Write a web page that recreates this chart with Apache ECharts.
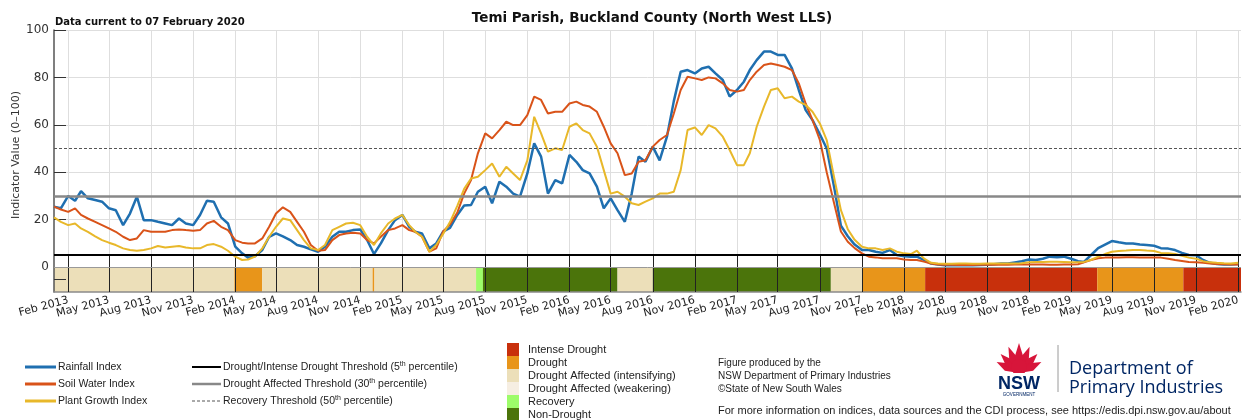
<!DOCTYPE html>
<html>
<head>
<meta charset="utf-8">
<title>Temi Parish, Buckland County (North West LLS)</title>
<script src="https://cdn.jsdelivr.net/npm/echarts@6/dist/echarts.min.js"></script>
<style>
  html, body { margin: 0; padding: 0; background: #fff; }
  #chart { width: 1247px; height: 420px; }
</style>
</head>
<body>
<div id="chart"></div>
<script>
// sample dates: 1st and 16th of each month, Jan 2013 - Feb 2020
const sampleDates = [];
for (let y = 2013; y <= 2020; y++) {
  for (let m = 0; m < 12; m++) {
    if (y === 2020 && m > 1) break;
    sampleDates.push(new Date(y, m, 1).getTime());
    if (!(y === 2020 && m === 1)) sampleDates.push(new Date(y, m, 16).getTime());
  }
}

const rainfallIndex = [
  25.5, 24.8, 30, 28, 32, 29, 28.3, 27.6, 24.8, 24,
  17.7, 22.6, 29.7, 19.8, 19.8, 19.1, 18.4, 17.7, 20.5, 18.4,
  17.7, 22, 28, 27.6, 21, 18.4, 8.6, 5.8, 4, 4.6,
  7.2, 12.8, 14.2, 13, 11.4, 9.3, 8.6, 7.5, 6.5, 8.6,
  12.8, 14.9, 14.9, 15.6, 15.9, 11.4, 5.5, 10, 15.6, 19.8,
  22, 17, 14.9, 14.2, 7.9, 10, 15, 16.5, 22, 26,
  26.2, 31.8, 33.9, 26.9, 36, 33.9, 31, 29.7, 39.5, 52.2,
  46.6, 31, 36.7, 35.3, 47.3, 44.4, 40.9, 39.5, 33.9, 24.8,
  29, 24, 19.1, 31, 46.6, 44.4, 50.8, 45, 55, 70,
  82.4, 83.1, 81.7, 83.8, 84.5, 81.7, 78.9, 71.9, 74.7, 78.2,
  83.1, 87.3, 90.9, 90.9, 89.5, 89.5, 83.8, 74.7, 66.2, 62,
  56, 50, 34, 17.5, 13, 9.5,
  7.2, 7.2, 6.5, 6, 7.2, 5.1, 4.6, 4.4, 4.4, 3,
  1.5, 1.1, 0.8, 0.8, 0.8, 0.8, 0.8, 0.9, 1, 1.2,
  1.5, 1.5, 2, 2.5, 3.2, 3, 3.5, 4.4, 4.2, 4.4,
  3.5, 2.5, 2.2, 5, 8, 9.5, 11, 10.5, 10, 10,
  9.5, 9.3, 9, 8, 7.8, 7.2, 6, 5.1, 5, 3,
  1.8, 1.3, 1.1, 1.1, 1.3
];
const soilWaterIndex = [
  25.5, 24.3, 23.3, 24.8, 22, 20.5, 19.1, 17.7, 16.3, 14.9,
  12.8, 11.4, 12.1, 15.6, 14.9, 14.9, 14.9, 15.6, 15.9, 15.6,
  15.3, 15.6, 18.4, 19.5, 17, 15.6, 11.4, 10.3, 10, 10,
  12.1, 17, 22.6, 25.2, 23.3, 19.1, 14.9, 9.3, 6.9, 7.2,
  11.4, 13.5, 14.2, 14.5, 14.2, 11.4, 10, 12.8, 15.6, 16.3,
  17.7, 15.6, 14.9, 12.8, 6.5, 7.9, 15, 18, 23, 31,
  36.7, 48, 56.4, 54.3, 57.8, 61.3, 59.9, 59.9, 64.1, 71.9,
  70.5, 64.8, 65.5, 65.5, 69, 69.8, 68.4, 67.7, 65.5, 59.2,
  52.2, 48, 38.8, 39.5, 44.4, 45.1, 50.8, 53.6, 55.7, 64.8,
  74.7, 80.3, 79.6, 78.9, 80, 79.6, 77.5, 74.7, 74, 74.7,
  78.9, 82.4, 85.2, 85.9, 85.2, 84.5, 83.1, 77.5, 69, 62,
  53.6, 40, 27, 15, 10.7, 8,
  5.8, 4.4, 4.1, 3.7, 3.7, 3.7, 3.2, 3, 3, 2.3,
  1.5, 1.1, 1, 1, 0.9, 0.9, 0.9, 1, 1, 1,
  1, 1, 1.1, 1.1, 1.1, 1.1, 1.1, 1, 1, 1.1,
  1.1, 1.2, 2, 3, 3.7, 4, 4.1, 4.1, 4.2, 4.2,
  4.1, 4, 4, 4, 3.5, 3, 2.6, 2.2, 2, 1.8,
  1.5, 1.3, 1.2, 1.1, 1.1
];
const plantGrowthIndex = [
  21, 19.1, 17.7, 18.4, 16.3, 14.9, 13, 11.4, 10.3, 9.3,
  7.9, 7.2, 6.9, 7.2, 7.9, 8.9, 8.3, 8.6, 8.9, 8.3,
  7.9, 7.9, 9.3, 9.7, 8.6, 6.9, 4.4, 3, 3.2, 4.4,
  7.9, 12.8, 17, 20.5, 19.8, 15.6, 11.4, 7.9, 7.2, 9.3,
  15.6, 17, 18.4, 18.7, 17.7, 12.8, 9.3, 14.2, 18.4, 20.5,
  22, 17.7, 14.9, 12.8, 6.5, 9.3, 14, 19, 25.8, 33,
  37.4, 38.1, 40.9, 43.7, 38.1, 42.3, 39.5, 36.7, 45, 63.4,
  56.4, 48.7, 50.1, 49.4, 59.2, 60.6, 57.8, 56.4, 50.8, 40.9,
  31, 31.8, 29.7, 26.9, 26.2, 27.6, 29, 31, 31, 31.8,
  40.9, 57.8, 58.9, 55.7, 59.9, 58.5, 55, 49.4, 43, 43,
  48, 59.2, 67.7, 74.7, 75.4, 71.2, 71.9, 69.8, 68.4, 65.5,
  60.6, 53.6, 38, 24, 16, 11.5,
  8.6, 7.9, 7.9, 7.2, 7.9, 6.5, 5.8, 5.5, 6.9, 3.7,
  1.8, 1.5, 1.4, 1.4, 1.5, 1.5, 1.4, 1.4, 1.5, 1.5,
  1.5, 1.5, 1.5, 1.6, 2, 2.2, 2.2, 2.3, 2.3, 2.2,
  2, 2, 2.2, 3, 4.4, 5.5, 6.5, 6.8, 7, 7.2,
  7.2, 7, 6.8, 6, 5.8, 5.5, 4.8, 4, 3.5, 2.5,
  2, 1.8, 1.6, 1.5, 1.8
];

// CDI phase band: start dates and state index (into stateNames)
const bandStarts = ['2013-01-01', '2014-01-30', '2014-04-01', '2014-11-28', '2014-12-02',
  '2015-07-12', '2015-07-27', '2016-05-16', '2016-08-01', '2017-08-25',
  '2017-11-01', '2018-03-19', '2019-03-30', '2019-10-04'];
const bandStates = [2, 1, 2, 1, 2, 4, 5, 2, 5, 2, 1, 0, 1, 0];
const bandEnd = '2020-02-07';
const stateNames = ['Intense Drought', 'Drought', 'Drought Affected (intensifying)',
  'Drought Affected (weakering)', 'Recovery', 'Non-Drought'];
const stateColors = ['#c8300c', '#e8951a', '#ecdfb9', '#f6eee2', '#9dfc6a', '#4b740b'];

const seriesNames = ['Rainfall Index', 'Soil Water Index', 'Plant Growth Index'];
const seriesColors = ['#1f6fb0', '#d95319', '#e8b82a'];
const thresholdValues = [5, 30, 50];
const thresholdNames = [
  'Drought/Intense Drought Threshold (5{sup|th} percentile)',
  'Drought Affected Threshold (30{sup|th} percentile)',
  'Recovery Threshold (50{sup|th} percentile)'
];
const yTickValues = [0, 20, 40, 60, 80, 100];
const monthNames = ['Jan', 'Feb', 'Mar', 'Apr', 'May', 'Jun', 'Jul', 'Aug', 'Sep', 'Oct', 'Nov', 'Dec'];

const toTime = (s) => {
  const p = s.split('-').map(Number);
  return new Date(p[0], p[1] - 1, p[2]).getTime();
};

// quarterly ticks Feb / May / Aug / Nov
const tickDates = [];
for (let y = 2013; y <= 2020; y++) {
  for (const m of [1, 4, 7, 10]) {
    if (y === 2020 && m > 1) break;
    tickDates.push(new Date(y, m, 1).getTime());
  }
}
// labels are split over two axes so the rotated labels never count as overlapping
const labelsA = tickDates.filter((d, i) => i % 2 === 0);
const labelsB = tickDates.filter((d, i) => i % 2 === 1);

const xMin = toTime('2013-01-01');
const xMax = toTime(bandEnd);
const yMin = -10.5;
const font = 'DejaVu Sans';
const smallFont = 'Liberation Sans';

const chart = echarts.init(document.getElementById('chart'));

const bandData = bandStarts.map((s, i) => [
  toTime(s), toTime(bandStarts[i + 1] || bandEnd), bandStates[i]
]);

const thresholdStyles = [
  { color: '#000', width: 2, type: 'solid' },
  { color: '#888', width: 2.5, type: 'solid' },
  { color: '#555', width: 1, type: [3, 2] }
];

// legend drawn as graphics at the bottom
const graphics = [];
// index legend
seriesNames.forEach((name, i) => {
  const y = 367 + i * 17;
  graphics.push({ type: 'line', shape: { x1: 25, y1: y, x2: 56, y2: y },
    style: { stroke: seriesColors[i], lineWidth: 3 } });
  graphics.push({ type: 'text', x: 58, y: y,
    style: { text: name, fill: '#222', font: '10.5px ' + smallFont, textVerticalAlign: 'middle' } });
});
// threshold legend
thresholdNames.forEach((name, i) => {
  const y = 367 + i * 17;
  const st = thresholdStyles[i];
  graphics.push({ type: 'line', shape: { x1: 192, y1: y, x2: 221, y2: y },
    style: { stroke: st.color, lineWidth: st.width, lineDash: Array.isArray(st.type) ? st.type : null } });
  graphics.push({ type: 'text', x: 223, y: y,
    style: { text: name, fill: '#222', font: '10.5px ' + smallFont, textVerticalAlign: 'middle',
      rich: { sup: { fontSize: 7, fontFamily: smallFont, padding: [0, 0, 6, 0] } } } });
});
// phase legend
stateNames.forEach((name, i) => {
  const top = 343 + i * 13;
  graphics.push({ type: 'rect', shape: { x: 507, y: top, width: 12, height: 13 },
    style: { fill: stateColors[i] } });
  graphics.push({ type: 'text', x: 528, y: top + 6.5,
    style: { text: name, fill: '#222', font: '11px ' + smallFont, textVerticalAlign: 'middle' } });
});
// credits
['Figure produced by the', 'NSW Department of Primary Industries', '\u00A9State of New South Wales']
  .forEach((t, i) => {
    graphics.push({ type: 'text', x: 718, y: 363 + i * 13,
      style: { text: t, fill: '#222', font: '10px ' + smallFont, textVerticalAlign: 'middle' } });
  });
graphics.push({ type: 'text', x: 718, y: 411,
  style: { text: 'For more information on indices, data sources and the CDI process, see https://edis.dpi.nsw.gov.au/about',
    fill: '#222', font: '11px ' + smallFont, textVerticalAlign: 'middle' } });

// NSW waratah logo (simplified)
const cx = 1019, cy = 373;
[-64, -44, -22, 0, 22, 44, 64].forEach((a) => {
  const r = a * Math.PI / 180;
  const len = 30 - Math.abs(a) * 0.08;
  const tipX = cx + Math.sin(r) * len, tipY = cy - Math.cos(r) * len;
  const midX = cx + Math.sin(r) * len * 0.55, midY = cy - Math.cos(r) * len * 0.55;
  const px = Math.cos(r) * 4.2, py = Math.sin(r) * 4.2;
  graphics.push({ type: 'polygon', shape: { points: [[cx, cy], [midX - px, midY - py], [tipX, tipY], [midX + px, midY + py]] },
    style: { fill: '#d7153a' } });
});
graphics.push({ type: 'circle', shape: { cx: cx, cy: cy - 6, r: 8 }, style: { fill: '#d7153a' } });
graphics.push({ type: 'rect', shape: { x: 998, y: 373, width: 42, height: 3 }, style: { fill: '#fff' } });
graphics.push({ type: 'text', x: 1019, y: 384,
  style: { text: 'NSW', fill: '#002664', font: 'bold 18px ' + smallFont, textAlign: 'center', textVerticalAlign: 'middle' } });
graphics.push({ type: 'text', x: 1019, y: 395,
  style: { text: 'GOVERNMENT', fill: '#002664', font: '4.5px ' + smallFont, textAlign: 'center', textVerticalAlign: 'middle' } });
graphics.push({ type: 'line', shape: { x1: 1058, y1: 345, x2: 1058, y2: 392 },
  style: { stroke: '#9a9a9a', lineWidth: 1 } });
graphics.push({ type: 'text', x: 1069, y: 369,
  style: { text: 'Department of', fill: '#002664', font: '500 18px "Open Sans"', textVerticalAlign: 'middle' } });
graphics.push({ type: 'text', x: 1069, y: 388,
  style: { text: 'Primary Industries', fill: '#002664', font: '500 18px "Open Sans"', textVerticalAlign: 'middle' } });
// y axis title
graphics.push({ type: 'text', x: 16, y: 155, rotation: Math.PI / 2,
  style: { text: 'Indicator Value (0\u2013100)', fill: '#333', font: '11px ' + font, textAlign: 'center', textVerticalAlign: 'middle' } });

const labelAxis = (values) => ({
  type: 'value', min: xMin, max: xMax, position: 'bottom', offset: 0,
  axisLine: { show: false },
  axisTick: { show: false },
  axisLabel: {
    customValues: values, rotate: 15, margin: 8, color: '#222',
    fontFamily: font, fontSize: 11, hideOverlap: false,
    formatter: (v) => { const d = new Date(v); return monthNames[d.getMonth()] + ' ' + d.getFullYear(); }
  },
  splitLine: { show: false }
});

const option = {
  animation: false,
  backgroundColor: '#fff',
  title: [
    { text: 'Temi Parish, Buckland County (North West LLS)', left: 647, top: 6, textAlign: 'center',
      textStyle: { fontFamily: font, fontSize: 13.5, fontWeight: 'bold', color: '#111' } },
    { text: 'Data current to 07 February 2020', left: 50, top: 12,
      textStyle: { fontFamily: font, fontSize: 10, fontWeight: 'bold', color: '#111' } }
  ],
  grid: { left: 54, right: 6, top: 30, bottom: 128 },
  xAxis: [
    {
      // grid lines
      type: 'value', min: xMin, max: xMax, position: 'bottom',
      axisLine: { show: false },
      axisTick: { show: false, customValues: tickDates },
      axisLabel: { show: false },
      splitLine: { show: true, lineStyle: { color: '#dedede', width: 1 } }
    },
    {
      // dark inside ticks drawn over the phase band
      type: 'value', min: xMin, max: xMax, position: 'bottom', z: 3,
      axisLine: { show: true, onZero: false, lineStyle: { color: '#8a8a8a', width: 1.5 } },
      axisTick: { show: true, inside: true, length: 37, customValues: tickDates,
        lineStyle: { color: '#222', width: 1 } },
      axisLabel: { show: false },
      splitLine: { show: false }
    },
    labelAxis(labelsA),
    labelAxis(labelsB)
  ],
  yAxis: [
    {
      type: 'value', min: yMin, max: 100,
      axisLine: { show: false },
      axisTick: { show: false, customValues: yTickValues },
      axisLabel: { customValues: yTickValues, color: '#333', fontFamily: font, fontSize: 12, margin: 5 },
      splitLine: { show: true, lineStyle: { color: '#dedede', width: 1 } }
    },
    {
      type: 'value', min: yMin, max: 100, position: 'left', offset: 0, z: 3,
      axisLine: { show: true, onZero: false, lineStyle: { color: '#555', width: 1.5 } },
      axisTick: { show: true, inside: true, length: 12, customValues: [-5].concat(yTickValues),
        lineStyle: { color: '#333', width: 1 } },
      axisLabel: { show: false },
      splitLine: { show: false }
    }
  ],
  graphic: graphics,
  series: [
    {
      name: 'CDI Phase',
      type: 'custom',
      xAxisIndex: 0, yAxisIndex: 0,
      silent: true,
      encode: { x: [0, 1], y: 2 },
      data: bandData,
      renderItem: (params, api) => {
        const p0 = api.coord([api.value(0), 0]);
        const p1 = api.coord([api.value(1), yMin]);
        return {
          type: 'rect',
          shape: { x: p0[0], y: p0[1], width: p1[0] - p0[0], height: p1[1] - p0[1] },
          style: { fill: stateColors[api.value(2)] }
        };
      }
    },
    {
      name: 'Thresholds',
      type: 'line',
      data: [],
      silent: true,
      markLine: {
        silent: true,
        symbol: ['none', 'none'],
        label: { show: false },
        data: [{ yAxis: 0, lineStyle: { color: '#999', width: 1, type: 'solid' } }].concat(
          thresholdValues.map((v, i) => ({ yAxis: v, lineStyle: thresholdStyles[i] })))
      }
    },
    ...[rainfallIndex, soilWaterIndex, plantGrowthIndex].map((vals, i) => ({
      name: seriesNames[i],
      type: 'line',
      showSymbol: false,
      silent: true,
      data: sampleDates.map((d, k) => [d, vals[k]]),
      lineStyle: { color: seriesColors[i], width: i === 0 ? 2.5 : 2 },
      itemStyle: { color: seriesColors[i] }
    }))
  ]
};

chart.setOption(option);
</script>
</body>
</html>
